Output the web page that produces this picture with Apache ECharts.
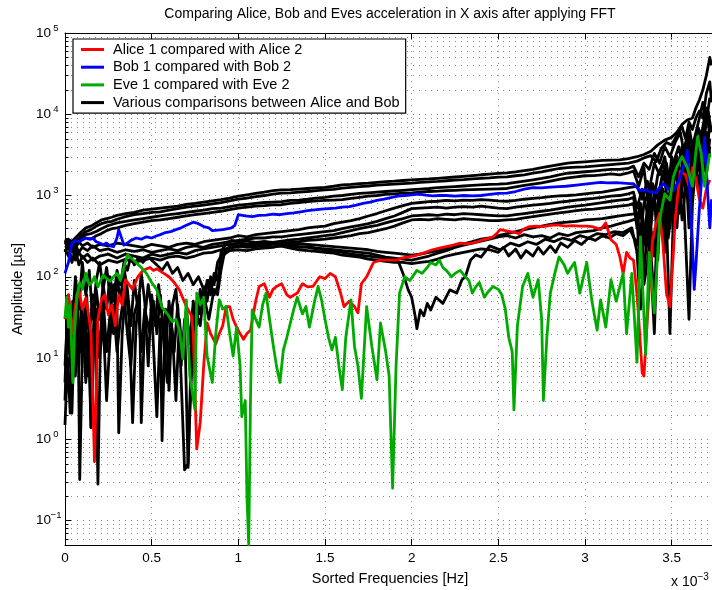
<!DOCTYPE html>
<html>
<head>
<meta charset="utf-8">
<script src="https://cdn.jsdelivr.net/npm/echarts@6/dist/echarts.min.js"></script>
<style>
  html, body { margin: 0; padding: 0; background: #fff; }
  #chart { width: 712px; height: 590px; }
</style>
</head>
<body>
<div id="chart"></div>
<script>
// Amplitude spectra of the X-axis acceleration, sorted frequency (x 10^-3 Hz) vs amplitude [µs]

const xTicks = [0, 0.5, 1, 1.5, 2, 2.5, 3, 3.5];
const yDecades = [0.1, 1, 10, 100, 1000, 10000, 100000];

const nameAlice = 'Alice 1 compared with Alice 2';
const nameBob = 'Bob 1 compared with Bob 2';
const nameEve = 'Eve 1 compared with Eve 2';
const nameAB = 'Various comparisons between Alice and Bob';

// Alice 1 vs Alice 2
const alice = [[0,30],[0.02,60],[0.04,20],[0.06,45],[0.08,70],[0.1,40],[0.12,55],[0.14,30],[0.15,20],[0.17,0.53],[0.19,30],[0.21,52],[0.23,60],[0.25,34],[0.27,45],[0.29,25],[0.31,60],[0.33,45],[0.35,92],[0.37,80],[0.39,70],[0.42,100],[0.45,120],[0.49,130],[0.51,120],[0.53,125],[0.57,110],[0.6,100],[0.63,85],[0.66,69],[0.7,43],[0.73,33],[0.74,20],[0.76,0.76],[0.78,1.6],[0.8,8],[0.82,27],[0.84,20],[0.87,15],[0.89,20],[0.91,25],[0.93,43],[0.95,43],[0.97,30],[0.99,24],[1.01,20],[1.03,17],[1.05,20],[1.07,22],[1.1,50],[1.12,76],[1.15,82],[1.18,56],[1.2,70],[1.22,76],[1.25,82],[1.28,60],[1.3,56],[1.34,63],[1.37,82],[1.4,75],[1.43,76],[1.47,100],[1.5,95],[1.53,110],[1.56,100],[1.59,63],[1.61,43],[1.64,50],[1.67,43],[1.69,36],[1.71,82],[1.74,100],[1.78,150],[1.82,160],[1.86,160],[1.91,160],[1.94,170],[1.97,175],[2.01,180],[2.05,190],[2.08,200],[2.12,215],[2.16,225],[2.2,235],[2.24,245],[2.28,260],[2.32,255],[2.35,260],[2.38,270],[2.41,285],[2.44,295],[2.47,310],[2.49,340],[2.51,380],[2.54,370],[2.57,360],[2.6,350],[2.62,340],[2.65,390],[2.68,415],[2.72,420],[2.76,415],[2.8,430],[2.84,435],[2.89,420],[2.93,425],[2.97,420],[3.01,420],[3.05,410],[3.09,380],[3.12,460],[3.15,285],[3.18,250],[3.2,180],[3.22,110],[3.24,200],[3.26,170],[3.28,160],[3.3,60],[3.31,30],[3.33,6.6],[3.34,6],[3.36,30],[3.38,150],[3.39,285],[3.41,450],[3.43,600],[3.45,250],[3.47,63],[3.49,43],[3.51,200],[3.52,500],[3.55,2000],[3.58,1800],[3.6,1300],[3.62,2200],[3.64,1600],[3.66,900],[3.68,700],[3.7,1200],[3.72,1550]];

// Bob 1 vs Bob 2
const bob = [[0,110],[0.01,130],[0.02,150],[0.03,200],[0.04,260],[0.06,280],[0.08,270],[0.1,285],[0.12,300],[0.14,290],[0.16,300],[0.18,270],[0.2,260],[0.22,247],[0.24,260],[0.26,240],[0.28,235],[0.29,230],[0.3,300],[0.31,380],[0.32,330],[0.34,245],[0.36,260],[0.38,280],[0.41,300],[0.44,290],[0.47,310],[0.5,300],[0.53,320],[0.55,330],[0.58,350],[0.61,360],[0.64,380],[0.67,400],[0.7,430],[0.74,470],[0.77,450],[0.8,415],[0.83,400],[0.85,370],[0.88,375],[0.91,380],[0.94,390],[0.96,400],[0.98,430],[1.0,580],[1.04,560],[1.08,550],[1.12,570],[1.16,575],[1.2,590],[1.24,580],[1.28,600],[1.32,610],[1.36,630],[1.4,650],[1.44,665],[1.48,680],[1.52,690],[1.56,700],[1.6,720],[1.64,730],[1.68,760],[1.72,800],[1.76,830],[1.8,870],[1.84,900],[1.88,940],[1.92,980],[1.96,1000],[2.0,1020],[2.04,1040],[2.08,1010],[2.12,990],[2.16,1000],[2.2,1000],[2.25,980],[2.3,1000],[2.35,990],[2.4,1000],[2.45,1030],[2.5,1060],[2.55,1070],[2.6,1120],[2.65,1200],[2.7,1250],[2.75,1240],[2.8,1270],[2.85,1290],[2.89,1300],[2.95,1340],[3.0,1380],[3.05,1420],[3.09,1450],[3.13,1430],[3.18,1440],[3.22,1420],[3.26,1400],[3.28,1400],[3.3,1250],[3.32,1150],[3.35,1180],[3.38,1100],[3.41,1080],[3.43,1250],[3.45,1400],[3.48,1200],[3.51,1150],[3.54,1500],[3.56,2000],[3.58,2800],[3.59,3600],[3.6,1600],[3.61,720],[3.62,250],[3.63,70],[3.64,140],[3.65,320],[3.66,700],[3.67,1300],[3.68,2600],[3.69,5200],[3.7,2200],[3.71,900],[3.72,400],[3.73,900]];

// Eve 1 vs Eve 2
const eve = [[0,31],[0.01,56],[0.02,24],[0.03,45],[0.045,5],[0.055,21],[0.07,60],[0.085,85],[0.1,70],[0.12,110],[0.14,80],[0.155,85],[0.17,100],[0.19,75],[0.21,95],[0.22,105],[0.24,95],[0.26,88],[0.28,100],[0.3,110],[0.32,90],[0.34,130],[0.36,186],[0.38,170],[0.41,150],[0.44,130],[0.47,110],[0.5,85],[0.53,69],[0.56,42],[0.59,35],[0.62,28],[0.64,30],[0.66,22],[0.68,9.8],[0.7,52],[0.72,6],[0.75,2.3],[0.76,63],[0.78,45],[0.8,56],[0.82,10.5],[0.85,5],[0.87,20],[0.89,52],[0.91,40],[0.93,43],[0.95,20],[0.97,10.6],[0.99,24],[1.01,8],[1.02,1.9],[1.04,3],[1.05,0.19],[1.06,0.05],[1.07,3],[1.08,39],[1.1,30],[1.12,24],[1.14,45],[1.16,63],[1.18,30],[1.2,15],[1.22,8],[1.24,5],[1.26,12.6],[1.28,18],[1.3,27],[1.32,40],[1.34,56],[1.37,35],[1.39,43],[1.41,24],[1.44,50],[1.46,76],[1.48,52],[1.5,30],[1.52,18],[1.54,12.6],[1.56,18],[1.58,8],[1.6,4.1],[1.62,18],[1.65,52],[1.67,14],[1.69,8],[1.71,3.2],[1.74,43],[1.77,14],[1.8,5.4],[1.82,27],[1.85,12],[1.87,6],[1.89,0.25],[1.91,8],[1.93,63],[1.96,100],[1.99,90],[2.03,120],[2.06,110],[2.09,130],[2.11,150],[2.14,140],[2.16,160],[2.18,130],[2.2,120],[2.23,100],[2.25,110],[2.28,120],[2.31,100],[2.33,90],[2.35,63],[2.37,75],[2.39,85],[2.42,56],[2.44,65],[2.47,76],[2.5,70],[2.52,60],[2.54,40],[2.56,18],[2.58,12],[2.59,2.3],[2.61,25],[2.64,76],[2.67,110],[2.7,56],[2.73,92],[2.75,30],[2.76,3],[2.78,18],[2.8,63],[2.83,120],[2.85,175],[2.88,140],[2.9,110],[2.92,130],[2.94,150],[2.97,63],[3.01,150],[3.04,50],[3.07,22],[3.09,52],[3.12,24],[3.15,92],[3.18,50],[3.22,110],[3.24,20],[3.27,110],[3.3,8.9],[3.32,310],[3.35,11],[3.37,200],[3.4,36],[3.43,500],[3.46,1050],[3.49,880],[3.51,1700],[3.53,2250],[3.56,3000],[3.59,2200],[3.62,1300],[3.64,3500],[3.65,5300],[3.67,3300],[3.69,1300],[3.72,3300]];

// Alice vs Bob comparisons
const ab01 = [[0,290],[0.03,260],[0.06,300],[0.09,350],[0.12,400],[0.15,420],[0.18,460],[0.21,500],[0.24,520],[0.27,540],[0.3,570],[0.35,600],[0.4,620],[0.45,660],[0.5,680],[0.55,700],[0.6,720],[0.65,740],[0.7,780],[0.75,800],[0.8,830],[0.85,860],[0.9,890],[0.95,930],[1.0,980],[1.05,1020],[1.1,1060],[1.15,1100],[1.2,1150],[1.25,1170],[1.3,1180],[1.35,1200],[1.4,1220],[1.45,1240],[1.5,1260],[1.55,1300],[1.6,1350],[1.65,1370],[1.7,1400],[1.75,1420],[1.8,1450],[1.85,1480],[1.9,1500],[1.95,1530],[2.0,1560],[2.05,1580],[2.1,1600],[2.15,1630],[2.2,1660],[2.25,1690],[2.3,1720],[2.35,1760],[2.4,1800],[2.45,1830],[2.5,1870],[2.55,1900],[2.6,1950],[2.65,2020],[2.7,2100],[2.75,2200],[2.8,2300],[2.85,2400],[2.9,2500],[2.95,2560],[3.0,2600],[3.05,2650],[3.1,2700],[3.15,2720],[3.2,2750],[3.25,2850],[3.3,3000],[3.34,3200],[3.38,3500],[3.42,4200],[3.46,4800],[3.5,5200],[3.53,6000],[3.56,7500],[3.59,8500],[3.62,9000],[3.64,12000],[3.66,15000],[3.68,20000],[3.7,30000],[3.72,50000],[3.73,40000]];
const ab02 = [[0,260],[0.03,280],[0.06,250],[0.09,320],[0.12,360],[0.15,380],[0.18,420],[0.21,450],[0.24,470],[0.27,480],[0.3,510],[0.35,550],[0.4,580],[0.45,600],[0.5,620],[0.55,630],[0.6,660],[0.65,690],[0.7,720],[0.75,740],[0.8,760],[0.85,790],[0.9,820],[0.95,860],[1.0,900],[1.05,930],[1.1,970],[1.15,1000],[1.2,1040],[1.25,1070],[1.3,1080],[1.35,1100],[1.4,1120],[1.45,1150],[1.5,1170],[1.55,1190],[1.6,1230],[1.65,1260],[1.7,1290],[1.75,1310],[1.8,1340],[1.85,1360],[1.9,1380],[1.95,1400],[2.0,1420],[2.05,1450],[2.1,1470],[2.15,1490],[2.2,1520],[2.25,1550],[2.3,1570],[2.35,1600],[2.4,1630],[2.45,1650],[2.5,1680],[2.55,1700],[2.6,1750],[2.65,1800],[2.7,1880],[2.75,1950],[2.8,2050],[2.85,2150],[2.9,2200],[2.95,2230],[3.0,2250],[3.05,2300],[3.1,2350],[3.15,2400],[3.2,2450],[3.25,2500],[3.3,2650],[3.34,2900],[3.38,3100],[3.41,2600],[3.44,3800],[3.47,4500],[3.5,4200],[3.53,5500],[3.56,7000],[3.58,5000],[3.6,8000],[3.62,6500],[3.64,9000],[3.66,11000],[3.68,9000],[3.7,18000],[3.72,25000],[3.73,14000]];
const ab03 = [[0,240],[0.03,220],[0.06,280],[0.09,300],[0.12,330],[0.15,340],[0.18,360],[0.21,390],[0.24,420],[0.27,440],[0.3,460],[0.35,480],[0.4,500],[0.45,520],[0.5,540],[0.55,560],[0.6,580],[0.65,600],[0.7,620],[0.75,640],[0.8,660],[0.85,690],[0.9,700],[0.95,730],[1.0,760],[1.05,780],[1.1,800],[1.15,820],[1.2,830],[1.25,840],[1.3,870],[1.35,880],[1.4,900],[1.45,930],[1.5,950],[1.55,980],[1.6,1000],[1.65,1030],[1.7,1060],[1.75,1080],[1.8,1100],[1.85,1120],[1.9,1140],[1.95,1160],[2.0,1180],[2.05,1200],[2.1,1220],[2.15,1250],[2.2,1270],[2.25,1290],[2.3,1310],[2.35,1330],[2.4,1350],[2.45,1370],[2.5,1380],[2.55,1400],[2.6,1450],[2.65,1500],[2.7,1560],[2.75,1620],[2.8,1700],[2.85,1800],[2.9,1880],[2.95,1920],[3.0,1960],[3.05,2000],[3.1,2050],[3.15,2100],[3.2,2100],[3.25,2150],[3.28,2300],[3.31,1700],[3.34,2500],[3.37,2100],[3.4,3300],[3.43,2500],[3.46,4000],[3.49,3000],[3.52,4500],[3.55,6000],[3.57,3500],[3.6,7000],[3.62,4000],[3.64,6000],[3.66,9000],[3.68,14000],[3.7,8000],[3.72,16000]];
const ab04 = [[0,200],[0.03,260],[0.06,230],[0.09,280],[0.12,300],[0.15,290],[0.18,320],[0.21,340],[0.24,370],[0.27,390],[0.3,400],[0.35,430],[0.4,450],[0.45,470],[0.5,490],[0.55,500],[0.6,520],[0.65,540],[0.7,560],[0.75,580],[0.8,600],[0.85,620],[0.9,640],[0.95,670],[1.0,700],[1.05,720],[1.1,740],[1.15,750],[1.2,765],[1.25,770],[1.3,800],[1.35,820],[1.4,840],[1.45,860],[1.5,870],[1.55,880],[1.6,890],[1.65,920],[1.7,950],[1.75,980],[1.8,1000],[1.85,1030],[1.9,1050],[1.95,1070],[2.0,1080],[2.05,1100],[2.1,1120],[2.15,1130],[2.2,1150],[2.25,1160],[2.3,1170],[2.35,1180],[2.4,1190],[2.45,1200],[2.5,1210],[2.55,1220],[2.6,1280],[2.65,1330],[2.7,1380],[2.75,1430],[2.8,1500],[2.85,1580],[2.9,1650],[2.95,1700],[3.0,1750],[3.05,1760],[3.1,1800],[3.15,1850],[3.2,1800],[3.25,1900],[3.28,2000],[3.31,1300],[3.34,2200],[3.36,900],[3.38,1500],[3.4,2500],[3.43,1800],[3.46,3000],[3.49,1200],[3.51,2500],[3.54,4000],[3.57,2000],[3.59,5000],[3.62,3000],[3.64,1500],[3.66,4000],[3.68,7000],[3.7,12000],[3.72,9000]];
const ab05 = [[0,280],[0.02,230],[0.04,260],[0.06,300],[0.08,270],[0.1,240],[0.13,260],[0.16,230],[0.2,250],[0.25,240],[0.3,260],[0.35,250],[0.4,240],[0.45,230],[0.5,250],[0.55,240],[0.6,230],[0.65,250],[0.7,260],[0.75,250],[0.8,270],[0.85,280],[0.9,290],[0.95,300],[1.0,320],[1.05,310],[1.1,330],[1.15,340],[1.2,350],[1.25,360],[1.3,370],[1.35,380],[1.4,400],[1.45,410],[1.5,420],[1.55,450],[1.6,470],[1.65,490],[1.7,520],[1.75,560],[1.8,600],[1.85,650],[1.9,700],[1.95,750],[2.0,800],[2.05,820],[2.1,840],[2.15,850],[2.2,870],[2.25,860],[2.3,880],[2.35,870],[2.4,890],[2.45,880],[2.5,860],[2.55,850],[2.6,870],[2.65,900],[2.7,920],[2.75,940],[2.8,970],[2.85,990],[2.9,1000],[2.95,1020],[3.0,1050],[3.05,1080],[3.1,1100],[3.15,1150],[3.2,1200],[3.25,1250],[3.3,1300],[3.33,900],[3.36,1500],[3.39,700],[3.42,1800],[3.45,2500],[3.48,1200],[3.5,3000],[3.53,1800],[3.56,4000],[3.58,2200],[3.6,6000],[3.63,3000],[3.65,7000],[3.68,5000],[3.7,10000],[3.72,6000]];
const ab06 = [[0,250],[0.02,290],[0.04,220],[0.06,250],[0.08,200],[0.1,230],[0.13,210],[0.16,240],[0.2,210],[0.25,220],[0.3,200],[0.35,215],[0.4,205],[0.45,215],[0.5,200],[0.55,210],[0.6,220],[0.65,210],[0.7,230],[0.75,240],[0.8,230],[0.85,250],[0.9,260],[0.95,270],[1.0,280],[1.05,290],[1.1,300],[1.15,300],[1.2,310],[1.25,310],[1.3,320],[1.35,330],[1.4,340],[1.45,350],[1.5,360],[1.55,370],[1.6,390],[1.65,410],[1.7,430],[1.75,450],[1.8,480],[1.85,520],[1.9,560],[1.95,620],[2.0,690],[2.05,700],[2.1,710],[2.15,720],[2.2,700],[2.25,720],[2.3,730],[2.35,720],[2.4,740],[2.45,720],[2.5,700],[2.55,690],[2.6,720],[2.65,740],[2.7,760],[2.75,780],[2.8,800],[2.85,830],[2.9,850],[2.95,880],[3.0,900],[3.05,920],[3.1,950],[3.15,980],[3.2,1000],[3.25,1050],[3.28,1100],[3.3,700],[3.33,1200],[3.36,600],[3.39,1400],[3.42,900],[3.45,2000],[3.48,800],[3.5,1500],[3.53,3000],[3.55,1000],[3.58,2500],[3.6,400],[3.62,2000],[3.65,4500],[3.67,1500],[3.7,6000],[3.72,3000]];
const ab07 = [[0,220],[0.02,180],[0.04,240],[0.06,160],[0.08,200],[0.1,170],[0.13,190],[0.16,160],[0.2,180],[0.25,190],[0.3,170],[0.35,190],[0.4,180],[0.45,170],[0.5,190],[0.55,180],[0.6,190],[0.65,200],[0.7,190],[0.75,210],[0.8,220],[0.85,230],[0.9,240],[0.95,250],[1.0,260],[1.05,250],[1.1,260],[1.15,270],[1.2,265],[1.25,275],[1.3,285],[1.35,290],[1.4,300],[1.45,310],[1.5,320],[1.55,330],[1.6,350],[1.65,370],[1.7,390],[1.75,410],[1.8,430],[1.85,460],[1.9,490],[1.95,520],[2.0,560],[2.05,570],[2.1,580],[2.15,570],[2.2,590],[2.25,580],[2.3,600],[2.35,590],[2.4,580],[2.45,570],[2.5,560],[2.55,560],[2.6,580],[2.65,600],[2.7,620],[2.75,640],[2.8,660],[2.85,690],[2.9,720],[2.95,740],[3.0,760],[3.05,790],[3.1,820],[3.15,850],[3.2,880],[3.25,900],[3.28,950],[3.3,500],[3.32,800],[3.35,300],[3.38,900],[3.41,600],[3.44,1300],[3.47,500],[3.49,20],[3.51,600],[3.54,1800],[3.57,900],[3.6,30],[3.62,800],[3.64,2500],[3.66,1000],[3.68,3500],[3.7,2000],[3.72,5000]];
const ab08 = [[0,200],[0.02,250],[0.04,150],[0.06,220],[0.08,140],[0.1,180],[0.13,150],[0.16,170],[0.2,140],[0.25,160],[0.3,150],[0.35,165],[0.4,150],[0.45,160],[0.5,170],[0.55,160],[0.6,175],[0.65,180],[0.7,170],[0.75,180],[0.8,195],[0.85,200],[0.9,215],[0.95,225],[1.0,235],[1.05,240],[1.1,245],[1.15,250],[1.2,255],[1.25,260],[1.3,265],[1.35,270],[1.4,280],[1.45,285],[1.5,290],[1.55,300],[1.6,310],[1.65,320],[1.7,340],[1.75,350],[1.8,370],[1.85,390],[1.9,420],[1.95,460],[2.0,500],[2.05,510],[2.1,500],[2.15,520],[2.2,510],[2.25,500],[2.3,520],[2.35,510],[2.4,500],[2.45,490],[2.5,490],[2.55,500],[2.6,510],[2.65,530],[2.7,550],[2.75,570],[2.8,590],[2.85,610],[2.9,630],[2.95,650],[3.0,670],[3.05,680],[3.1,700],[3.15,720],[3.2,740],[3.25,760],[3.28,800],[3.3,400],[3.32,700],[3.34,250],[3.37,600],[3.4,900],[3.43,400],[3.46,1100],[3.48,300],[3.51,1000],[3.54,1500],[3.56,500],[3.59,2000],[3.61,800],[3.63,2500],[3.66,1200],[3.68,3000],[3.7,1800],[3.72,4000]];
const ab09 = [[0,3],[0.015,30],[0.03,8],[0.045,50],[0.06,15],[0.075,40],[0.085,0.32],[0.1,12],[0.115,40],[0.13,6],[0.145,25],[0.16,60],[0.175,20],[0.19,0.28],[0.205,20],[0.22,55],[0.24,12],[0.26,35],[0.28,80],[0.3,40],[0.31,1.2],[0.33,20],[0.35,70],[0.37,30],[0.39,1.6],[0.41,25],[0.43,60],[0.44,1.6],[0.46,30],[0.48,80],[0.5,40],[0.53,1.9],[0.55,30],[0.56,0.96],[0.58,40],[0.6,4],[0.62,45],[0.64,70],[0.66,20],[0.69,0.42],[0.71,0.5],[0.73,15],[0.75,40],[0.78,25],[0.8,60],[0.83,30],[0.86,70],[0.88,60],[0.9,120],[0.92,200],[0.95,240],[1.0,260],[1.05,250],[1.1,260],[1.15,255],[1.2,260],[1.25,250],[1.3,240],[1.35,230],[1.4,235],[1.45,225],[1.5,220],[1.55,215],[1.6,210],[1.65,205],[1.7,200],[1.75,195],[1.8,185],[1.85,175],[1.9,170],[1.95,165],[2.0,160],[2.05,170],[2.1,180],[2.15,195],[2.2,210],[2.25,230],[2.3,245],[2.35,260],[2.4,275],[2.45,290],[2.5,310],[2.55,320],[2.6,300],[2.65,330],[2.7,310],[2.75,320],[2.8,300],[2.85,340],[2.9,320],[2.95,350],[3.0,360],[3.05,370],[3.1,400],[3.15,420],[3.2,450],[3.25,480],[3.3,520],[3.32,100],[3.34,300],[3.36,700],[3.38,200],[3.4,50],[3.42,600],[3.45,1200],[3.47,300],[3.49,900],[3.52,2000],[3.55,800],[3.57,3000],[3.6,1200],[3.62,4000],[3.65,2000],[3.68,6000],[3.7,3000],[3.72,8000]];
const ab10 = [[0,1.5],[0.015,10],[0.03,2.1],[0.045,25],[0.06,6],[0.075,30],[0.09,12],[0.1,35],[0.12,5],[0.135,20],[0.15,1.4],[0.165,15],[0.18,40],[0.2,10],[0.22,30],[0.24,3],[0.26,18],[0.28,45],[0.3,12],[0.32,30],[0.34,60],[0.36,20],[0.38,8],[0.4,35],[0.42,50],[0.44,12],[0.46,40],[0.49,20],[0.51,50],[0.53,20],[0.55,60],[0.57,15],[0.59,5],[0.61,30],[0.63,12],[0.65,45],[0.67,8],[0.69,30],[0.71,0.45],[0.72,2],[0.74,20],[0.76,50],[0.78,35],[0.8,70],[0.82,50],[0.84,100],[0.86,80],[0.88,150],[0.9,180],[0.93,220],[0.96,230],[1.0,240],[1.05,230],[1.1,235],[1.15,240],[1.2,235],[1.25,238],[1.3,225],[1.35,215],[1.4,210],[1.45,205],[1.5,200],[1.55,195],[1.6,185],[1.65,180],[1.7,175],[1.75,165],[1.8,160],[1.85,155],[1.9,150],[1.95,150],[2.0,145],[2.05,150],[2.1,155],[2.15,165],[2.2,180],[2.25,190],[2.3,200],[2.35,210],[2.4,220],[2.45,215],[2.5,200],[2.53,230],[2.56,180],[2.6,220],[2.63,170],[2.66,210],[2.7,180],[2.73,230],[2.76,190],[2.8,240],[2.83,200],[2.86,260],[2.9,230],[2.94,280],[2.98,250],[3.02,300],[3.06,280],[3.1,320],[3.14,300],[3.18,340],[3.22,320],[3.26,380],[3.3,250],[3.32,450],[3.34,80],[3.36,150],[3.38,400],[3.4,180],[3.42,700],[3.45,300],[3.47,1000],[3.49,400],[3.51,1500],[3.54,600],[3.56,2500],[3.58,1000],[3.6,3500],[3.63,1500],[3.66,5000],[3.69,2500],[3.72,7000]];
const ab11 = [[0,5],[0.015,40],[0.03,12],[0.04,2.1],[0.055,30],[0.07,60],[0.08,8],[0.095,45],[0.11,20],[0.125,60],[0.14,15],[0.15,1.4],[0.165,25],[0.18,70],[0.2,30],[0.22,80],[0.24,40],[0.26,100],[0.28,50],[0.3,120],[0.32,80],[0.34,150],[0.36,120],[0.38,180],[0.4,140],[0.42,170],[0.45,150],[0.48,180],[0.5,160],[0.53,140],[0.56,120],[0.59,150],[0.62,110],[0.65,130],[0.68,90],[0.71,110],[0.74,80],[0.77,100],[0.8,70],[0.83,90],[0.86,60],[0.88,75],[0.9,200],[0.93,260],[0.96,280],[1.0,270],[1.05,275],[1.1,265],[1.15,270],[1.2,260],[1.24,250],[1.3,240],[1.35,235],[1.4,230],[1.45,220],[1.5,215],[1.55,205],[1.6,200],[1.65,190],[1.7,185],[1.75,180],[1.8,175],[1.85,170],[1.9,165],[1.92,161],[1.95,110],[1.98,69],[2.0,56],[2.02,33],[2.03,23],[2.05,39],[2.07,33],[2.09,47],[2.11,39],[2.14,56],[2.18,47],[2.22,69],[2.26,63],[2.29,92],[2.31,100],[2.34,161],[2.37,186],[2.4,175],[2.45,240],[2.51,214],[2.57,260],[2.62,240],[2.67,270],[2.72,250],[2.77,290],[2.82,270],[2.87,300],[2.92,280],[2.97,320],[3.02,300],[3.07,340],[3.12,330],[3.17,360],[3.22,350],[3.27,400],[3.3,200],[3.32,40],[3.34,120],[3.36,350],[3.38,150],[3.4,20],[3.42,400],[3.44,900],[3.46,200],[3.48,700],[3.5,1800],[3.53,400],[3.55,1500],[3.58,3500],[3.6,800],[3.63,3000],[3.66,1200],[3.69,5000],[3.72,3000]];
const ab12 = [[0,8],[0.02,60],[0.04,20],[0.06,100],[0.08,40],[0.1,150],[0.12,60],[0.14,120],[0.16,30],[0.18,90],[0.2,150],[0.22,70],[0.24,130],[0.26,60],[0.28,20],[0.3,100],[0.32,50],[0.34,130],[0.36,70],[0.38,25],[0.4,90],[0.42,40],[0.44,110],[0.46,50],[0.48,8],[0.5,60],[0.52,25],[0.54,80],[0.56,35],[0.58,12],[0.6,50],[0.62,20],[0.64,3],[0.66,30],[0.68,10],[0.7,40],[0.72,15],[0.74,50],[0.76,25],[0.78,70],[0.8,40],[0.82,90],[0.84,60],[0.86,110],[0.88,90],[0.9,150],[0.92,190],[0.95,210],[1.0,215],[1.05,210],[1.1,220],[1.15,225],[1.2,230],[1.25,245],[1.3,250],[1.35,255],[1.4,250],[1.45,245],[1.5,240],[1.55,235],[1.6,230],[1.65,225],[1.7,220],[1.75,215],[1.8,205],[1.85,200],[1.9,195],[1.95,190],[2.0,185],[2.05,190],[2.1,200],[2.15,210],[2.2,225],[2.25,240],[2.3,255],[2.35,270],[2.4,290],[2.45,300],[2.5,320],[2.55,340],[2.6,360],[2.65,380],[2.7,400],[2.75,420],[2.8,440],[2.85,460],[2.9,470],[2.95,480],[3.0,500],[3.05,510],[3.1,520],[3.15,540],[3.2,560],[3.25,580],[3.3,600],[3.32,300],[3.34,800],[3.36,1000],[3.38,400],[3.4,1200],[3.42,160],[3.44,1500],[3.47,2500],[3.5,1000],[3.53,3000],[3.56,1500],[3.59,5000],[3.62,2500],[3.65,7000],[3.68,4000],[3.71,11000],[3.73,6000]];

const aliceBob = [ab01, ab02, ab03, ab04, ab05, ab06, ab07, ab08, ab09, ab10, ab11, ab12];

// minor log grid positions: 2..9 within each decade
const minorY = [];
for (let e = -2; e <= 4; e++) {
  for (let m = 2; m <= 9; m++) {
    const v = +(m * Math.pow(10, e)).toPrecision(3);
    if (v > 0.05 && v < 1e5) minorY.push([0, v]);
  }
}

const FONT = '"Liberation Sans", Arial, Helvetica, sans-serif';
const GRID_COLOR = '#8a8a8a';
const dotted = { color: GRID_COLOR, width: 1, type: [1, 5] };
const LINE_W = 2.8;

function lineSeries(name, data, color, z) {
  return {
    name: name, type: 'line', data: data, z: z,
    symbol: 'none', showSymbol: false, smooth: false,
    lineStyle: { color: color, width: LINE_W, join: 'round' },
    itemStyle: { color: color },
    emphasis: { disabled: true },
    silent: true
  };
}

const series = [];
series.push({
  type: 'custom', name: 'minor grid', data: minorY, z: 1, silent: true,
  xAxisIndex: 0, yAxisIndex: 0,
  encode: { x: 0, y: 1 },
  renderItem: function (params, api) {
    const cs = params.coordSys;
    const y = Math.round(api.coord([0, api.value(1)])[1]) + 0.5;
    return {
      type: 'group',
      children: [
        { type: 'line', shape: { x1: cs.x, y1: y, x2: cs.x + cs.width, y2: y },
          style: { stroke: GRID_COLOR, lineWidth: 1, lineDash: [1, 5] } },
        { type: 'line', shape: { x1: cs.x, y1: y, x2: cs.x + 3.5, y2: y },
          style: { stroke: '#000', lineWidth: 1 } }
      ]
    };
  }
});
aliceBob.forEach(function (d) { series.push(lineSeries(nameAB, d, '#000000', 3)); });
series.push(lineSeries(nameAlice, alice, '#ff0000', 3));
series.push(lineSeries(nameBob, bob, '#0000ff', 3));
series.push(lineSeries(nameEve, eve, '#00aa00', 3));

const chart = echarts.init(document.getElementById('chart'), null, { renderer: 'canvas' });
chart.setOption({
  animation: false,
  backgroundColor: '#ffffff',
  textStyle: { fontFamily: FONT },
  title: {
    text: 'Comparing Alice, Bob and Eves acceleration in X axis after applying FFT',
    left: 390, top: 7, padding: 0, textAlign: 'center',
    textStyle: { fontSize: 14, fontWeight: 'normal', color: '#000', fontFamily: FONT }
  },
  legend: {
    data: [nameAlice, nameBob, nameEve, nameAB],
    orient: 'vertical', left: 73, top: 39,
    icon: 'rect',
    backgroundColor: '#ffffff', borderColor: '#000', borderWidth: 1.2, borderRadius: 0,
    padding: [3, 6, 3, 8], itemGap: 2.7, itemWidth: 23, itemHeight: 3,
    selectedMode: false,
    textStyle: { fontSize: 14.5, lineHeight: 14, color: '#000', fontFamily: FONT, padding: [0, 0, 0, 4] }
  },
  grid: { left: 65, right: -3, top: 33, bottom: 45, containLabel: false, outerBoundsMode: 'none' },
  xAxis: [{
    type: 'value', min: 0, max: 3.75, interval: 0.5, position: 'bottom',
    name: 'Sorted Frequencies [Hz]', nameLocation: 'middle', nameGap: 26,
    nameTextStyle: { fontSize: 14.5, color: '#000', fontFamily: FONT },
    axisLine: { show: true, onZero: false, lineStyle: { color: '#000', width: 1 } },
    axisTick: { show: true, inside: true, length: 6, lineStyle: { color: '#000' } },
    axisLabel: { show: true, margin: 6, fontSize: 13.5, color: '#000', fontFamily: FONT,
      showMaxLabel: false, formatter: function (v) { return xTicks.indexOf(v) >= 0 ? String(v) : ''; } },
    splitLine: { show: true, lineStyle: dotted }
  }, {
    type: 'value', min: 0, max: 3.75, interval: 0.5, position: 'top',
    axisLine: { show: true, onZero: false, lineStyle: { color: '#000', width: 1 } },
    axisTick: { show: true, inside: true, length: 6, lineStyle: { color: '#000' } },
    axisLabel: { show: false }, splitLine: { show: false }
  }],
  yAxis: {
    type: 'log', logBase: 10, min: 0.05, max: 100000,
    name: 'Amplitude [µs]', nameLocation: 'middle', nameGap: 36, nameRotate: 90,
    nameTextStyle: { fontSize: 14.5, color: '#000', fontFamily: FONT },
    axisLine: { show: true, onZero: false, lineStyle: { color: '#000', width: 1 } },
    axisTick: { show: true, inside: true, length: 6, lineStyle: { color: '#000' } },
    axisLabel: {
      show: true, margin: 4, showMinLabel: false, color: '#000', fontFamily: FONT,
      formatter: function (v) {
        let hit = null;
        yDecades.forEach(function (d) { if (Math.abs(v / d - 1) < 1e-6) hit = d; });
        if (hit === null) return '';
        const e = Math.round(Math.log10(hit));
        return '{b|10}{e|' + (e < 0 ? '\u2212' + (-e) : e) + '}';
      },
      rich: {
        b: { fontSize: 13.5, lineHeight: 20, color: '#000', fontFamily: FONT },
        e: { fontSize: 9.5, lineHeight: 10, verticalAlign: 'top', width: 10, align: 'left', color: '#000', fontFamily: FONT }
      }
    },
    splitLine: { show: true, lineStyle: dotted },
    minorTick: { show: false }, minorSplitLine: { show: false }
  },
  graphic: [{
    type: 'text', left: 671, top: 572, silent: true,
    style: {
      text: '{a|x 10}{e|\u22123}',
      rich: {
        a: { fontSize: 14, lineHeight: 20, fill: '#000', fontFamily: FONT },
        e: { fontSize: 10, lineHeight: 10, verticalAlign: 'top', fill: '#000', fontFamily: FONT }
      }
    }
  }],
  series: series
});
</script>
</body>
</html>
